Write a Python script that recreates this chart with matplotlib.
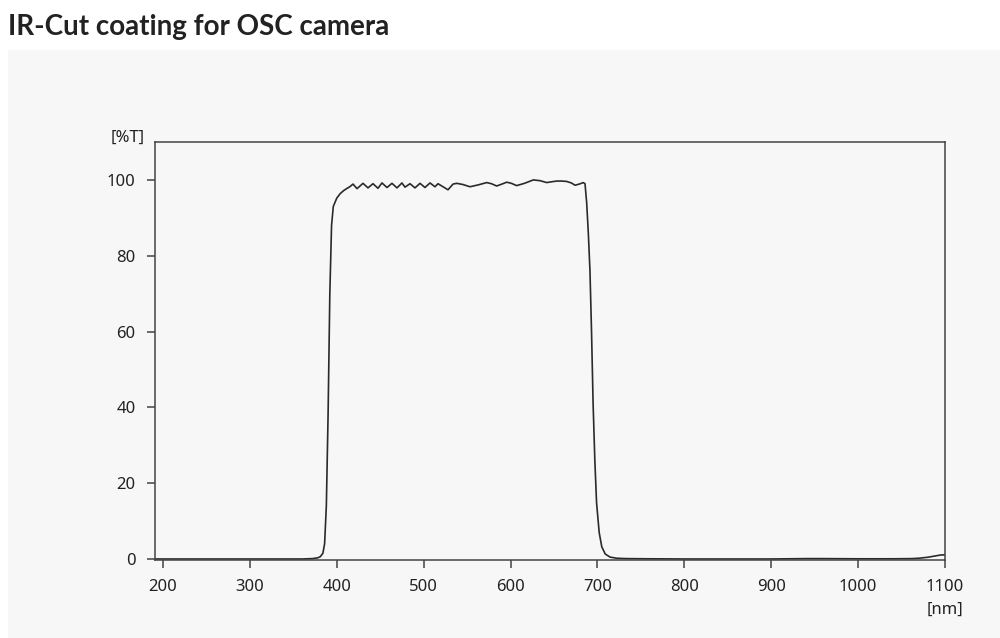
import matplotlib
matplotlib.use("Agg")
import matplotlib.pyplot as plt

# transmission curve (nm, %T)
wavelength = [190, 300, 360, 372, 378, 381, 384, 386, 388, 390, 392, 394, 396,
              400, 404, 408, 412, 415,
              418.7, 423.3, 430.2, 435.9, 441.7, 447.4, 452, 457.8, 463.5, 469.3,
              475, 478.5, 484.3, 490, 495.8, 501.5, 507.3, 513, 516.5, 528, 533.8,
              538, 545, 553.3, 563, 572.5, 578, 584, 590, 595.6, 601, 607, 616,
              626.2, 634, 641.6, 647, 653.1, 659, 664.6, 670,
              674.2, 679, 683.7, 685.7, 687.6, 689.5, 691.4, 693.2, 695, 697, 699,
              702, 705, 709, 714.5, 722, 733, 760, 800, 900, 940, 960, 1000,
              1040, 1062, 1070, 1080, 1090, 1095, 1100]
transmission = [0.0, 0.0, 0.0, 0.1, 0.3, 0.6, 1.5, 4.0, 14.0, 38.0, 70.0, 88.0, 93.0,
                95.2, 96.4, 97.2, 97.8, 98.2,
                98.9, 97.7, 99.1, 97.9, 99.0, 97.8, 99.2, 98.0, 99.1, 97.9,
                99.2, 98.1, 99.0, 97.9, 99.1, 98.0, 99.2, 98.2, 99.0, 97.4, 98.9,
                99.1, 98.8, 98.2, 98.7, 99.3, 99.0, 98.4, 98.9, 99.4, 99.1, 98.5, 99.1,
                100.0, 99.8, 99.3, 99.5, 99.7, 99.7, 99.6, 99.2,
                98.6, 98.9, 99.3, 99.0, 94.0, 86.0, 76.0, 60.0, 41.0, 26.0, 14.8,
                7.0, 3.2, 1.3, 0.5, 0.2, 0.1, 0.05, 0.0, 0.0, 0.1, 0.1, 0.05,
                0.05, 0.1, 0.2, 0.45, 0.85, 1.05, 1.1]

x_ticks = [200, 300, 400, 500, 600, 700, 800, 900, 1000, 1100]
y_ticks = [0, 20, 40, 60, 80, 100]

title = "IR-Cut coating for OSC camera"
ink = "#222222"
panel = "#f7f7f7"
fam = ["Noto Sans", "DejaVu Sans"]

fig = plt.figure(figsize=(10, 6.38), dpi=100)
fig.patch.set_facecolor("white")

# light grey card behind the chart
bg = fig.add_axes([0.008, 0.0, 0.992, 0.9216], zorder=-1)
bg.set_facecolor(panel)
bg.set_xticks([])
bg.set_yticks([])
for s in bg.spines.values():
    s.set_visible(False)

fig.text(0.008, 0.978, title, ha="left", va="top", fontsize=20,
         fontweight="bold", family=["Lato", "DejaVu Sans"], color=ink)

ax = fig.add_axes([0.155, 0.1223, 0.79, 0.6551], zorder=1)
ax.set_facecolor(panel)
ax.plot(wavelength, transmission, color="#2a2a2a", lw=1.2,
        solid_joinstyle="round")

ax.set_xlim(190.8, 1100)
ax.set_ylim(-0.26, 110)
ax.set_xticks(x_ticks)
ax.set_yticks(y_ticks)
for s in ax.spines.values():
    s.set_color("#444444")
    s.set_linewidth(1.1)
ax.tick_params(direction="out", length=6, width=1.1, color="#444444",
               labelsize=12, labelcolor=ink, pad=8)
for lab in ax.get_xticklabels() + ax.get_yticklabels():
    lab.set_family(fam)

fig.text(0.145, 0.784, "[%T]", ha="right", va="center", fontsize=12,
         family=fam, color=ink)
fig.text(0.945, 0.044, "[nm]", ha="center", va="center", fontsize=12,
         family=fam, color=ink)

fig.savefig("out.png", dpi=100)
